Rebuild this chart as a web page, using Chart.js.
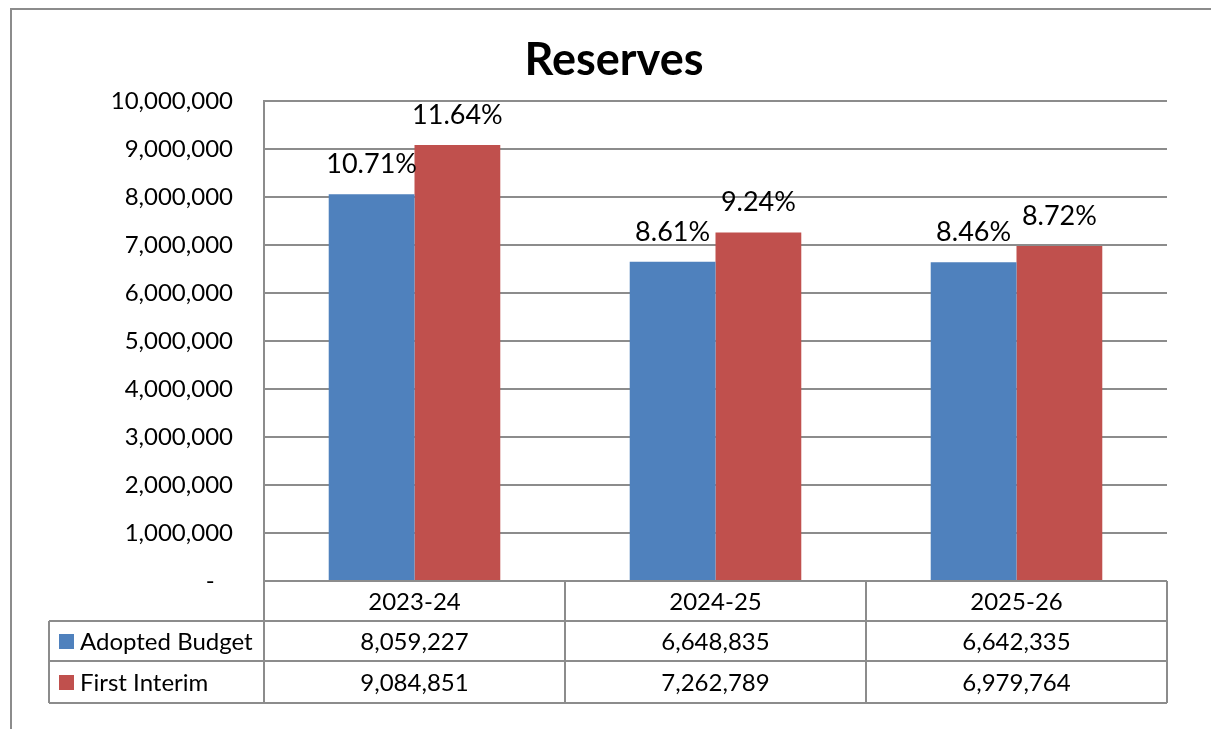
<!DOCTYPE html>
<html>
<head>
<meta charset="utf-8">
<script src="https://cdn.jsdelivr.net/npm/chart.js@4.4.1/dist/chart.umd.min.js"></script>
<style>
  html, body { margin: 0; padding: 0; background: #fff; }
  #wrap { width: 1211px; height: 729px; position: relative; }
</style>
</head>
<body>
<div id="wrap"><canvas id="reserves"></canvas></div>
<script>
const years = ['2023-24', '2024-25', '2025-26'];
const adoptedBudget = [8059227, 6648835, 6642335];
const firstInterim = [9084851, 7262789, 6979764];
const adoptedPct = ['10.71%', '8.61%', '8.46%'];
const interimPct = ['11.64%', '9.24%', '8.72%'];
const seriesNames = ['Adopted Budget', 'First Interim'];

const FONT = 'Lato, "Open Sans", sans-serif';
const BLUE = '#4F81BD';
const RED = '#C0504D';
const LINE = '#8c8c8c';

const fmt = n => n.toLocaleString('en-US');

// title, % labels, data table and the frame
const extrasPlugin = {
  id: 'extras',
  afterDraw(chart) {
    const ctx = chart.ctx;
    const area = chart.chartArea;
    const x = chart.scales.x;
    ctx.save();

    // outer frame
    ctx.strokeStyle = LINE;
    ctx.lineWidth = 2;
    ctx.beginPath();
    ctx.moveTo(11, 729);
    ctx.lineTo(11, 9);
    ctx.lineTo(1211, 9);
    ctx.stroke();

    // title
    ctx.fillStyle = '#000';
    ctx.font = 'bold 45px ' + FONT;
    ctx.textAlign = 'center';
    ctx.textBaseline = 'middle';
    ctx.fillText('Reserves', 614, 60);

    // percentage labels above bars
    ctx.font = '27px ' + FONT;
    const pcts = [adoptedPct, interimPct];
    chart.data.datasets.forEach((ds, di) => {
      chart.getDatasetMeta(di).data.forEach((bar, i) => {
        ctx.fillText(pcts[di][i], bar.x, bar.y - 30);
      });
    });

    // data table
    const rowTops = [area.bottom, area.bottom + 40, area.bottom + 80, area.bottom + 122];
    const tableLeft = 49;
    const colEdges = [area.left];
    for (let i = 0; i < years.length; i++) {
      colEdges.push(area.left + (area.right - area.left) * (i + 1) / years.length);
    }
    ctx.strokeStyle = LINE;
    ctx.lineWidth = 2;
    ctx.beginPath();
    rowTops.forEach((y, r) => {
      ctx.moveTo(r === 0 ? area.left : tableLeft, y);
      ctx.lineTo(area.right, y);
    });
    colEdges.forEach(cx => {
      ctx.moveTo(cx, rowTops[0]);
      ctx.lineTo(cx, rowTops[3]);
    });
    ctx.moveTo(tableLeft, rowTops[1]);
    ctx.lineTo(tableLeft, rowTops[3]);
    ctx.stroke();

    ctx.font = '24px ' + FONT;
    ctx.fillStyle = '#000';
    ctx.textAlign = 'center';
    const rows = [years, adoptedBudget.map(fmt), firstInterim.map(fmt)];
    rows.forEach((vals, r) => {
      const cy = (rowTops[r] + rowTops[r + 1]) / 2 + 1;
      vals.forEach((v, i) => {
        ctx.fillText(v, x.getPixelForValue(i), cy);
      });
    });

    // legend keys in the table
    ctx.textAlign = 'left';
    seriesNames.forEach((name, r) => {
      const cy = (rowTops[r + 1] + rowTops[r + 2]) / 2;
      ctx.fillStyle = chart.data.datasets[r].backgroundColor;
      ctx.fillRect(59, cy - 7, 15, 15);
      ctx.fillStyle = '#000';
      ctx.fillText(name, 80, cy + 1);
    });

    ctx.restore();
  }
};

new Chart(document.getElementById('reserves'), {
  type: 'bar',
  data: {
    labels: years,
    datasets: [
      { label: seriesNames[0], data: adoptedBudget, backgroundColor: BLUE },
      { label: seriesNames[1], data: firstInterim, backgroundColor: RED }
    ]
  },
  options: {
    responsive: true,
    maintainAspectRatio: false,
    animation: false,
    layout: { padding: { top: 101, right: 44, bottom: 148, left: 0 } },
    datasets: { bar: { categoryPercentage: 0.57, barPercentage: 1.0 } },
    scales: {
      x: {
        ticks: { display: false },
        grid: { display: false, drawTicks: false },
        border: { display: false }
      },
      y: {
        min: 0,
        max: 10000000,
        afterFit(scale) { scale.width = 264; },
        ticks: {
          stepSize: 1000000,
          padding: 31,
          color: '#000',
          font: { family: FONT, size: 24 },
          callback: v => v === 0 ? '-   ' : fmt(v)
        },
        grid: { color: LINE, lineWidth: 2, drawTicks: false },
        border: { display: true, color: LINE, width: 2 }
      }
    },
    plugins: {
      legend: { display: false },
      title: { display: false },
      tooltip: { enabled: false }
    }
  },
  plugins: [extrasPlugin]
});
</script>
</body>
</html>
